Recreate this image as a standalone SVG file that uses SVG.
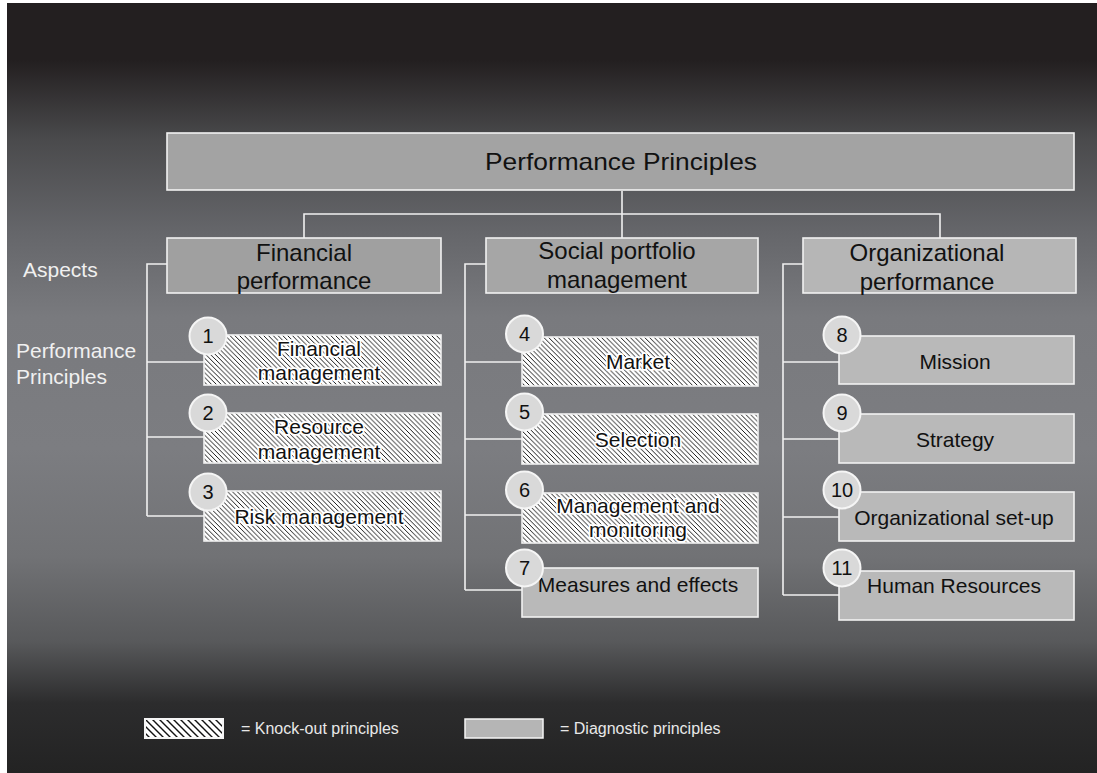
<svg xmlns="http://www.w3.org/2000/svg" width="1097" height="773" viewBox="0 0 1097 773">
<defs>
<linearGradient id="bg" gradientUnits="userSpaceOnUse" x1="0" y1="0" x2="0" y2="773">
<stop offset="0" stop-color="#231f20"/>
<stop offset="0.078" stop-color="#231f20"/>
<stop offset="0.18" stop-color="#4a4a4c"/>
<stop offset="0.3" stop-color="#65666a"/>
<stop offset="0.41" stop-color="#797a7e"/>
<stop offset="0.58" stop-color="#7c7d81"/>
<stop offset="0.72" stop-color="#717275"/>
<stop offset="0.83" stop-color="#58595b"/>
<stop offset="0.91" stop-color="#2c2c2d"/>
<stop offset="1" stop-color="#232323"/>
</linearGradient>
<pattern id="hatch" patternUnits="userSpaceOnUse" width="4.8" height="4.8">
<rect width="4.8" height="4.8" fill="#fff"/>
<path d="M-1,-1 L5.8,5.8 M-1,3.8 L1,5.8 M3.8,-1 L5.8,1" stroke="#000" stroke-width="0.9"/>
</pattern>
<pattern id="hatchL" patternUnits="userSpaceOnUse" width="7" height="7">
<rect width="7" height="7" fill="#fff"/>
<path d="M-1,-1 L8,8 M-1,6 L1,8 M6,-1 L8,1" stroke="#111" stroke-width="1.4"/>
</pattern>
<style>
.box{stroke:#f2f2f2;stroke-width:1.6}
.top{fill:#a3a3a3}
.asp{font-family:"Liberation Sans",Arial,sans-serif;font-size:24px;fill:#111;text-anchor:middle}
.hat{fill:url(#hatch)}
.dia{fill:#b9b9b9}
.lbl{font-family:"Liberation Sans",Arial,sans-serif;font-size:21px;fill:#111;text-anchor:middle}
.halo{paint-order:stroke;stroke:#fff;stroke-width:3.5;stroke-linejoin:round}
.circ{fill:#d9d9d9;stroke:#f5f5f5;stroke-width:2}
.num{font-family:"Liberation Sans",Arial,sans-serif;font-size:20px;fill:#111;text-anchor:middle}
.side{font-family:"Liberation Sans",Arial,sans-serif;font-size:21px;fill:#f0f0f0}
.leg{font-family:"Liberation Sans",Arial,sans-serif;font-size:16px;fill:#e8e8e8}
.con{fill:none;stroke:#f0f0f0;stroke-width:1.6}
</style>
</defs>
<rect width="1097" height="773" fill="#fff"/>
<rect x="7" y="3" width="1090" height="770" fill="url(#bg)"/>

<g id="connectors" class="con">
<path d="M622,191 V238 M304,238 V214 H940 V238"/>
<path d="M168,264 H147 V516 M147,362 H204 M147,437 H204 M147,516 H204"/>
<path d="M486,264 H465 V590 M465,362 H522 M465,439 H522 M465,515 H522 M465,590 H522"/>
<path d="M803,264 H783 V595 M783,362 H839 M783,439 H839 M783,517 H839 M783,595 H839"/>
</g>

<g id="root">
<rect class="box top" x="167" y="133" width="907" height="57"/>
<text class="asp" x="621" y="170" textLength="272" lengthAdjust="spacingAndGlyphs">Performance Principles</text>
</g>

<g id="aspect-financial">
<rect class="box" fill="#a0a0a0" x="167" y="238" width="274" height="55"/>
<text class="asp" x="304" y="261">Financial</text>
<text class="asp" x="304" y="289">performance</text>
</g>
<g id="aspect-social">
<rect class="box" fill="#a6a6a6" x="486" y="238" width="272" height="55"/>
<text class="asp" x="617" y="259">Social portfolio</text>
<text class="asp" x="617" y="288">management</text>
</g>
<g id="aspect-organizational">
<rect class="box" fill="#b6b6b6" x="803" y="238" width="273" height="55"/>
<text class="asp" x="927" y="261">Organizational</text>
<text class="asp" x="927" y="290">performance</text>
</g>

<g id="p1">
<rect class="box hat" x="204" y="335" width="237" height="50"/>
<text class="lbl halo" x="319" y="356">Financial</text>
<text class="lbl halo" x="319" y="380">management</text>
<circle class="circ" cx="208" cy="336" r="18.5"/>
<text class="num" x="208" y="343">1</text>
</g>
<g id="p2">
<rect class="box hat" x="204" y="413" width="237" height="50"/>
<text class="lbl halo" x="319" y="434">Resource</text>
<text class="lbl halo" x="319" y="459">management</text>
<circle class="circ" cx="208" cy="413" r="18.5"/>
<text class="num" x="208" y="420">2</text>
</g>
<g id="p3">
<rect class="box hat" x="204" y="491" width="237" height="50"/>
<text class="lbl halo" x="319" y="524">Risk management</text>
<circle class="circ" cx="208" cy="492" r="18.5"/>
<text class="num" x="208" y="499">3</text>
</g>

<g id="p4">
<rect class="box hat" x="522" y="337" width="236" height="49"/>
<text class="lbl halo" x="638" y="369">Market</text>
<circle class="circ" cx="524.5" cy="334" r="18.5"/>
<text class="num" x="524.5" y="341">4</text>
</g>
<g id="p5">
<rect class="box hat" x="522" y="414" width="236" height="50"/>
<text class="lbl halo" x="638" y="447">Selection</text>
<circle class="circ" cx="524.5" cy="412" r="18.5"/>
<text class="num" x="524.5" y="419">5</text>
</g>
<g id="p6">
<rect class="box hat" x="522" y="493" width="236" height="50"/>
<text class="lbl halo" x="638" y="513">Management and</text>
<text class="lbl halo" x="638" y="537">monitoring</text>
<circle class="circ" cx="524.5" cy="490" r="18.5"/>
<text class="num" x="524.5" y="497">6</text>
</g>
<g id="p7">
<rect class="box dia" x="522" y="568" width="236" height="49"/>
<text class="lbl" x="638" y="592">Measures and effects</text>
<circle class="circ" cx="524.5" cy="568" r="18.5"/>
<text class="num" x="524.5" y="575">7</text>
</g>

<g id="p8">
<rect class="box dia" x="839" y="336" width="235" height="48"/>
<text class="lbl" x="955" y="369">Mission</text>
<circle class="circ" cx="842" cy="335" r="18.5"/>
<text class="num" x="842" y="342">8</text>
</g>
<g id="p9">
<rect class="box dia" x="839" y="414" width="235" height="49"/>
<text class="lbl" x="955" y="447">Strategy</text>
<circle class="circ" cx="842" cy="413" r="18.5"/>
<text class="num" x="842" y="420">9</text>
</g>
<g id="p10">
<rect class="box dia" x="839" y="492" width="235" height="49"/>
<text class="lbl" x="954" y="525">Organizational set-up</text>
<circle class="circ" cx="842" cy="490" r="18.5"/>
<text class="num" x="842" y="497">10</text>
</g>
<g id="p11">
<rect class="box dia" x="839" y="571" width="235" height="49"/>
<text class="lbl" x="954" y="593">Human Resources</text>
<circle class="circ" cx="842" cy="568" r="18.5"/>
<text class="num" x="842" y="575">11</text>
</g>

<g id="side-labels">
<text class="side" x="23" y="277">Aspects</text>
<text class="side" x="16" y="358">Performance</text>
<text class="side" x="16" y="384">Principles</text>
</g>

<g id="legend">
<rect fill="url(#hatchL)" stroke="#f5f5f5" stroke-width="2" x="145" y="719" width="78" height="19"/>
<text class="leg" x="241" y="734">= Knock-out principles</text>
<rect fill="#b5b5b5" stroke="#f5f5f5" stroke-width="1.5" x="465" y="719" width="78" height="19"/>
<text class="leg" x="560" y="734">= Diagnostic principles</text>
</g>
</svg>
